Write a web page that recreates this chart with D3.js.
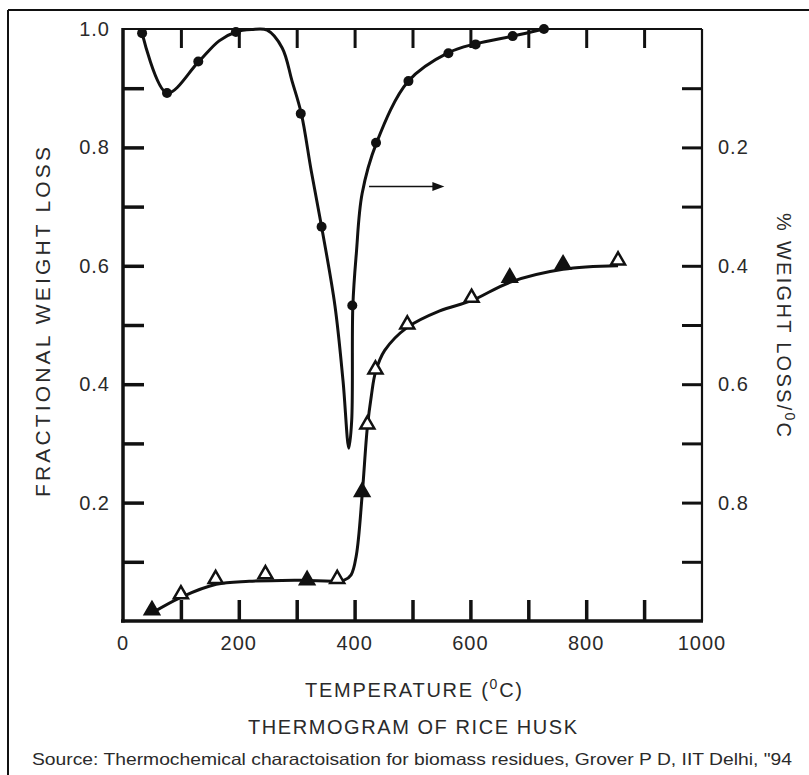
<!DOCTYPE html>
<html>
<head>
<meta charset="utf-8">
<script src="https://cdn.jsdelivr.net/npm/d3@7"></script>
<style>
  html, body { margin: 0; padding: 0; background: #fff; }
  svg { display: block; }
  text { font-family: "Liberation Sans", Arial, sans-serif; fill: #2a2a2a; }
</style>
</head>
<body>
<svg id="chart" width="809" height="775"></svg>
<script>
// ---- data ----
// DTG curve (% weight loss / °C, right axis, reversed)
const dtgCurveT = [33, 76, 130, 166, 195, 222, 249, 275, 292, 308, 325, 343, 366, 380, 390, 395, 397, 403, 413, 438, 493, 562, 609, 673, 727];
const dtgCurveV = [0.007, 0.108, 0.056, 0.020, 0.005, 0.001, 0.002, 0.032, 0.088, 0.143, 0.239, 0.334, 0.467, 0.594, 0.708, 0.661, 0.467, 0.379, 0.278, 0.192, 0.088, 0.040, 0.025, 0.012, 0.0];
const dtgPointT = [33, 76, 130, 195, 307, 343, 396, 437, 493, 562, 609, 673, 727];
const dtgPointV = [0.007, 0.108, 0.055, 0.005, 0.143, 0.334, 0.467, 0.192, 0.088, 0.041, 0.026, 0.012, 0.0];
// TG curve (fractional weight loss, left axis)
const tgCurveT = [49, 100, 161, 218, 304, 382, 394, 403, 413, 422, 429, 436, 452, 491, 547, 602, 668, 760, 855];
const tgCurveV = [0.013, 0.040, 0.062, 0.067, 0.069, 0.069, 0.078, 0.111, 0.212, 0.327, 0.381, 0.420, 0.457, 0.496, 0.524, 0.541, 0.572, 0.594, 0.600];
const tgPointT = [50, 100, 160, 246, 318, 370, 413, 422, 436, 491, 602, 668, 760, 855];
const tgPointV = [0.013, 0.040, 0.066, 0.074, 0.064, 0.066, 0.213, 0.327, 0.420, 0.496, 0.541, 0.575, 0.597, 0.604];
const tgPointFilled = [1, 0, 0, 0, 1, 0, 1, 0, 0, 0, 0, 1, 1, 0];
// ticks
const xTicks = [100, 200, 300, 400, 500, 600, 700, 800, 900];
const xTickLabels = [0, 200, 400, 600, 800, 1000];
const yTicks = [0.1, 0.2, 0.3, 0.4, 0.5, 0.6, 0.7, 0.8, 0.9];
const leftTickLabels = [0.2, 0.4, 0.6, 0.8, 1.0];
const rightTickLabels = [0.2, 0.4, 0.6, 0.8];
// arrow annotation (points to right axis)
const arrowT = [425, 555];
const arrowV = 0.266;

// ---- layout ----
const svg = d3.select("#chart");
const L = 123, R = 702, T = 29, B = 621;
const x = d3.scaleLinear().domain([0, 1000]).range([L, R]);
const yL = d3.scaleLinear().domain([0, 1]).range([B, T]);
const yR = d3.scaleLinear().domain([0, 1]).range([T, B]);
const ink = "#111";

// outer frame (top and left visible)
svg.append("line").attr("x1", 8).attr("x2", 809).attr("y1", 10).attr("y2", 10).attr("stroke", ink).attr("stroke-width", 2);
svg.append("line").attr("x1", 8).attr("x2", 8).attr("y1", 10).attr("y2", 775).attr("stroke", ink).attr("stroke-width", 2);

// axes with inward ticks
function styleAxis(g, tw) {
  g.select(".domain").remove();
  g.selectAll(".tick line").attr("stroke", ink).attr("stroke-width", tw);
  g.selectAll(".tick text").remove();
}
svg.append("g").attr("transform", `translate(0,${B})`)
  .call(d3.axisBottom(x).tickValues(xTicks).tickSize(-21)).call(g => styleAxis(g, 3.5));
svg.append("g").attr("transform", `translate(0,${T})`)
  .call(d3.axisTop(x).tickValues(xTicks).tickSize(-19)).call(g => styleAxis(g, 3));
svg.append("g").attr("transform", `translate(${L},0)`)
  .call(d3.axisLeft(yL).tickValues(yTicks).tickSize(-21)).call(g => styleAxis(g, 3.5));
svg.append("g").attr("transform", `translate(${R},0)`)
  .call(d3.axisRight(yR).tickValues(yTicks).tickSize(-20)).call(g => styleAxis(g, 3));

// axis lines
svg.append("line").attr("x1", L).attr("x2", R).attr("y1", T).attr("y2", T).attr("stroke", ink).attr("stroke-width", 2);
svg.append("line").attr("x1", R).attr("x2", R).attr("y1", T).attr("y2", B).attr("stroke", ink).attr("stroke-width", 2.2);
svg.append("line").attr("x1", L - 2).attr("x2", R + 1).attr("y1", B).attr("y2", B).attr("stroke", ink).attr("stroke-width", 3.5);
svg.append("line").attr("x1", L).attr("x2", L).attr("y1", T - 1).attr("y2", B + 1.5).attr("stroke", ink).attr("stroke-width", 3.5);

// tick labels
const fs = 20;
svg.append("g").selectAll("text").data(xTickLabels).join("text")
  .attr("x", d => x(d)).attr("y", 650).attr("text-anchor", "middle")
  .attr("font-size", fs).attr("letter-spacing", 1).text(d => d);
svg.append("g").selectAll("text").data(leftTickLabels).join("text")
  .attr("x", 110).attr("y", d => yL(d) + 7).attr("text-anchor", "end")
  .attr("font-size", fs).attr("letter-spacing", 1).text(d => d.toFixed(1));
svg.append("g").selectAll("text").data(rightTickLabels).join("text")
  .attr("x", 718).attr("y", d => yR(d) + 7).attr("text-anchor", "start")
  .attr("font-size", fs).attr("letter-spacing", 1).text(d => d.toFixed(1));

// axis titles
const xt = svg.append("text").attr("x", 305).attr("y", 697).attr("font-size", 20)
  .attr("textLength", 217).attr("lengthAdjust", "spacing");
xt.append("tspan").text("TEMPERATURE (");
xt.append("tspan").attr("dy", -8).attr("font-size", 14).text("0");
xt.append("tspan").attr("dy", 8).text("C)");

svg.append("text").attr("x", 248).attr("y", 734).attr("font-size", 20)
  .attr("textLength", 329).attr("lengthAdjust", "spacing")
  .text("THERMOGRAM OF RICE HUSK");
svg.append("text").attr("x", 32).attr("y", 765).attr("font-size", 16.5)
  .attr("textLength", 760).attr("lengthAdjust", "spacingAndGlyphs")
  .text("Source: Thermochemical charactoisation for biomass residues, Grover P D, IIT Delhi, \"94");

svg.append("text").attr("transform", "translate(50,497) rotate(-90)")
  .attr("font-size", 21).attr("textLength", 350).attr("lengthAdjust", "spacing")
  .text("FRACTIONAL WEIGHT LOSS");
const rt = svg.append("text").attr("transform", "translate(777,213) rotate(90)").attr("font-size", 20)
  .attr("textLength", 224).attr("lengthAdjust", "spacing");
rt.append("tspan").text("% WEIGHT LOSS/");
rt.append("tspan").attr("dy", -8).attr("font-size", 14).text("0");
rt.append("tspan").attr("dy", 8).text("C");

// curves
const dtgCurve = dtgCurveT.map((t, i) => [t, dtgCurveV[i]]);
const tgCurve = tgCurveT.map((t, i) => [t, tgCurveV[i]]);
svg.append("path").datum(dtgCurve)
  .attr("d", d3.line().x(d => x(d[0])).y(d => yR(d[1])).curve(d3.curveCatmullRom.alpha(0.5)))
  .attr("fill", "none").attr("stroke", ink).attr("stroke-width", 3).attr("stroke-linejoin", "round");
svg.append("path").datum(tgCurve)
  .attr("d", d3.line().x(d => x(d[0])).y(d => yL(d[1])).curve(d3.curveCatmullRom.alpha(0.5)))
  .attr("fill", "none").attr("stroke", ink).attr("stroke-width", 3).attr("stroke-linejoin", "round");

// markers
svg.append("g").selectAll("circle").data(dtgPointT.map((t, i) => [t, dtgPointV[i]])).join("circle")
  .attr("cx", d => x(d[0])).attr("cy", d => yR(d[1])).attr("r", 5).attr("fill", ink);
const tri = d3.symbol().type(d3.symbolTriangle).size(85);
svg.append("g").selectAll("path").data(tgPointT.map((t, i) => [t, tgPointV[i], tgPointFilled[i]])).join("path")
  .attr("d", tri).attr("transform", d => `translate(${x(d[0])},${yL(d[1]) - 3})`)
  .attr("fill", d => d[2] ? ink : "#fff").attr("stroke", ink).attr("stroke-width", 2.5);

// arrow annotation
const ay = yR(arrowV);
svg.append("line").attr("x1", x(arrowT[0])).attr("x2", x(arrowT[1]) - 10).attr("y1", ay).attr("y2", ay)
  .attr("stroke", ink).attr("stroke-width", 1.5);
svg.append("path").attr("d", `M${x(arrowT[1])},${ay} L${x(arrowT[1]) - 12},${ay - 4.5} L${x(arrowT[1]) - 12},${ay + 4.5} Z`).attr("fill", ink);
</script>
</body>
</html>
